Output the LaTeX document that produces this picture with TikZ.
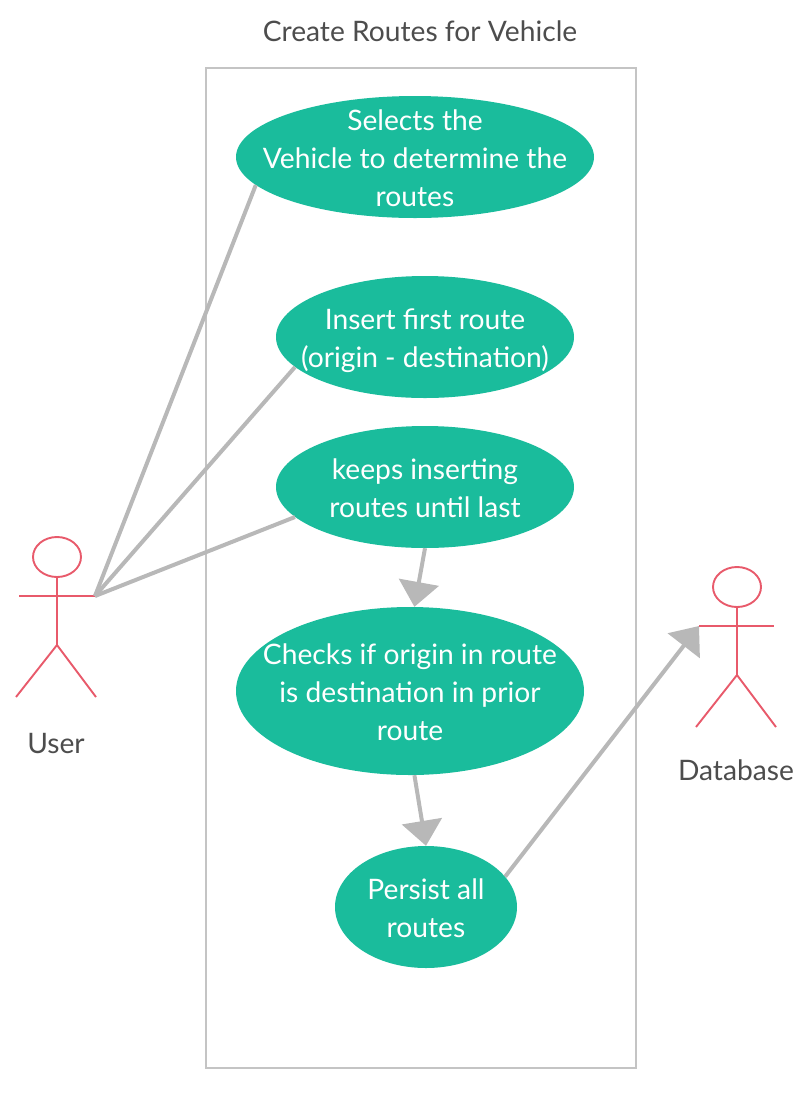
\documentclass[tikz,border=0pt]{standalone}
\usepackage{fontspec}
\setmainfont{Lato}
\usetikzlibrary{shapes.geometric,arrows.meta,positioning,calc}
\definecolor{casegreen}{HTML}{1ABC9C}
\definecolor{actorred}{HTML}{E85A6B}
\definecolor{linegray}{HTML}{B8B8B8}
\definecolor{framegray}{HTML}{C4C4C4}
\definecolor{textgray}{HTML}{4D4D4D}
\tikzstyle{mycase} = [ellipse, fill=casegreen, inner sep=0pt]
\tikzstyle{casetext} = [text=white, align=center, inner sep=0pt, yshift=-1.5pt, font=\fontsize{28.2}{38}\selectfont]
\tikzstyle{mylabel} = [text=textgray, font=\fontsize{28.2}{38}\selectfont, inner sep=0pt]
\tikzstyle{myactor} = [draw=actorred, line width=1.9pt]
\tikzstyle{myline} = [draw=linegray, line width=4pt]
\tikzstyle{myarrow} = [myline, -{Triangle[length=25pt,width=40pt]}]

\begin{document}
\begin{tikzpicture}[x=1pt,y=-1pt]
  \useasboundingbox (0,0) rectangle (799,1096);
  \node[mylabel] (title) at (420,31.5) {Create Routes for Vehicle};
  \node[draw=framegray, line width=1.7pt, rectangle, minimum width=430pt, minimum height=1000pt, inner sep=0pt] (frame) at (421,568) {};
  % use cases
  \node[mycase, minimum width=358pt, minimum height=122pt, label={[casetext]center:Selects the\\Vehicle to determine the\\routes}] (selects) at (415,157) {};
  \node[mycase, minimum width=298pt, minimum height=122pt, label={[casetext,yshift=-2pt]center:Insert first route\\(origin - destination)}] (first) at (425,337) {};
  \node[mycase, minimum width=298pt, minimum height=122pt, label={[casetext]center:keeps inserting\\routes until last}] (keeps) at (425,487) {};
  \node[mycase, minimum width=348pt, minimum height=168pt, label={[casetext]center:Checks if origin in route\\is destination in prior\\route}] (checks) at (410,691) {};
  \node[mycase, minimum width=182pt, minimum height=122pt, label={[casetext]center:Persist all\\routes}] (persist) at (426,907) {};
  % user
  \begin{scope}[shift={(57,0)}]
    \node[ellipse, myactor, minimum width=48pt, minimum height=40pt, inner sep=0pt] (userhead) at (0,557) {};
    \coordinate (userhip) at (0,645);
    \coordinate (userleft) at (-38,596);
    \coordinate (userhand) at (38,596);
    \coordinate (userfootl) at (-41,697);
    \coordinate (userfootr) at (39,697);
    \draw[myactor] (userhead.south) -- (userhip);
    \draw[myactor] (userleft) -- (userhand);
    \draw[myactor] (userfootl) -- (userhip) -- (userfootr);
  \end{scope}
  \node[mylabel] (user) at (56,744) {User};
  % database
  \begin{scope}[shift={(737,0)}]
    \node[ellipse, myactor, minimum width=48pt, minimum height=40pt, inner sep=0pt] (dbhead) at (0,587) {};
    \coordinate (dbhip) at (0,675);
    \coordinate (dbhand) at (-38,626);
    \coordinate (dbright) at (37,626);
    \coordinate (dbfootl) at (-41,727);
    \coordinate (dbfootr) at (39,727);
    \draw[myactor] (dbhead.south) -- (dbhip);
    \draw[myactor] (dbhand) -- (dbright);
    \draw[myactor] (dbfootl) -- (dbhip) -- (dbfootr);
  \end{scope}
  \node[mylabel] (database) at (736,770) {Database};
  % connectors
  \draw[myline] (userhand) -- (selects.190);
  \draw[myline] (userhand) -- (first.193);
  \draw[myline] (userhand) -- (keeps.193);
  \draw[myarrow] (keeps.south) -- (checks.87);
  \draw[myarrow] (checks.273) -- (persist.north);
  \draw[myarrow] (persist.21) -- (dbhand);
\end{tikzpicture}
\end{document}
